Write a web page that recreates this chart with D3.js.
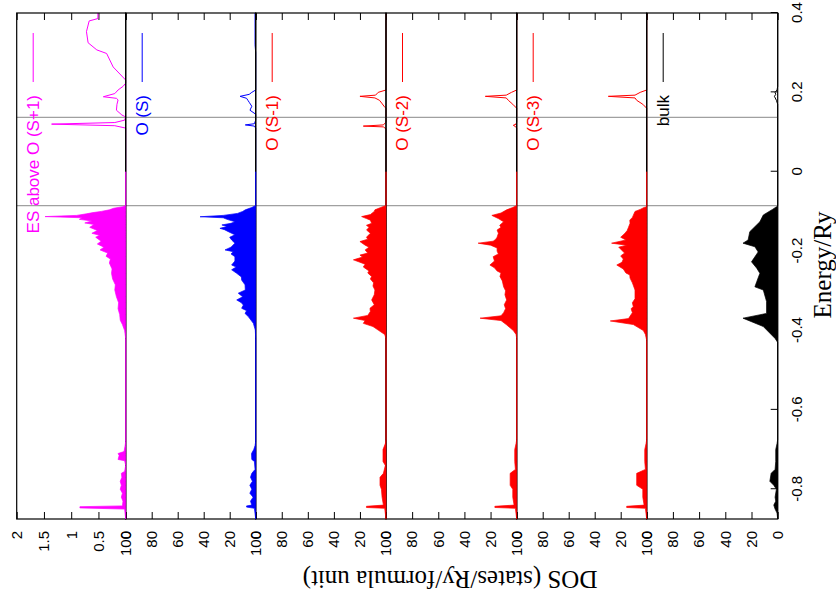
<!DOCTYPE html>
<html>
<head>
<meta charset="utf-8">
<script src="https://cdn.jsdelivr.net/npm/d3@7"></script>
<style>
  body { margin: 0; background: #fff; }
  svg { display: block; }
</style>
</head>
<body>
<div id="chart"></div>
<script>
// DOS curves, [energy (Ry), DOS] pairs
const esFill = [[-0.875,0],[-0.85,0.02],[-0.847,0.84],[-0.844,0.84],[-0.842,0.06],[-0.83,0.05],[-0.82,0.08],[-0.81,0.06],[-0.8,0.1],[-0.79,0.08],[-0.78,0.1],[-0.77,0.07],[-0.76,0.08],[-0.755,0.02],[-0.74,0],[-0.728,0.02],[-0.725,0.14],[-0.715,0.12],[-0.71,0.14],[-0.705,0.03],[-0.69,0.01],[-0.68,0],[-0.42,0],[-0.4,0.02],[-0.385,0.06],[-0.374,0.1],[-0.36,0.11],[-0.345,0.14],[-0.33,0.13],[-0.315,0.17],[-0.298,0.2],[-0.285,0.19],[-0.27,0.24],[-0.256,0.26],[-0.245,0.25],[-0.23,0.3],[-0.22,0.28],[-0.213,0.36],[-0.205,0.33],[-0.197,0.47],[-0.19,0.4],[-0.182,0.52],[-0.175,0.45],[-0.165,0.55],[-0.16,0.48],[-0.155,0.62],[-0.148,0.52],[-0.14,0.66],[-0.133,0.58],[-0.129,0.75],[-0.124,0.62],[-0.12,0.85],[-0.116,0.8],[-0.113,1.48],[-0.11,0.9],[-0.106,0.72],[-0.103,0.6],[-0.1,0.45],[-0.096,0.3],[-0.092,0.22],[-0.088,0.05],[-0.085,0],[0,0]];
const esLine = [[0,0],[0.11,0],[0.116,0.2],[0.12,1.36],[0.124,0.2],[0.13,0.02],[0.138,0],[0.143,0.07],[0.155,0.17],[0.17,0.16],[0.181,0.14],[0.185,0.17],[0.189,0.41],[0.197,0.2],[0.206,0.14],[0.215,0.05],[0.223,0],[0.231,0],[0.264,0.23],[0.298,0.35],[0.307,0.53],[0.325,0.69],[0.353,0.72],[0.38,0.67],[0.386,0.51],[0.4,0.51]];

const oSFill = [[-0.875,0],[-0.848,1],[-0.845,7],[-0.842,7],[-0.84,3],[-0.83,4],[-0.82,2],[-0.81,4.5],[-0.8,3],[-0.79,4.5],[-0.78,2.5],[-0.77,4],[-0.76,3],[-0.75,0.5],[-0.73,1],[-0.725,3],[-0.71,3.2],[-0.7,1.5],[-0.69,0.5],[-0.68,0],[-0.42,0],[-0.399,0.3],[-0.382,1.8],[-0.365,5.7],[-0.357,8.2],[-0.35,7],[-0.344,10.8],[-0.336,9.5],[-0.33,11],[-0.323,14.6],[-0.315,10],[-0.306,13.4],[-0.298,8],[-0.285,8.2],[-0.273,10.8],[-0.265,11],[-0.256,14.6],[-0.247,18.5],[-0.24,15],[-0.235,18.5],[-0.225,16],[-0.214,16],[-0.207,19],[-0.2015,17.2],[-0.197,23.6],[-0.19,19],[-0.18,16],[-0.172,18.5],[-0.165,20],[-0.159,16],[-0.151,21],[-0.146,24],[-0.1426,27.5],[-0.138,22],[-0.134,26],[-0.13,19],[-0.126,15.9],[-0.12,22],[-0.116,25],[-0.1134,42.8],[-0.11,25],[-0.105,14],[-0.1,10],[-0.096,8],[-0.09,3],[-0.085,0],[0,0]];
const oSLine = [[0,0],[0.11,0],[0.115,1],[0.118,8],[0.121,1],[0.13,0],[0.145,0],[0.155,4.4],[0.165,3],[0.175,5],[0.18,6],[0.185,7],[0.19,12],[0.195,5],[0.2,3],[0.206,0],[0.3,0],[0.32,0.5],[0.4,0.5]];

const oS1Fill = [[-0.875,0],[-0.848,1],[-0.846,15],[-0.843,15],[-0.84,2],[-0.82,3],[-0.8,3.5],[-0.79,4.6],[-0.77,4.6],[-0.76,2],[-0.74,0.5],[-0.73,2.3],[-0.7,2.3],[-0.685,0.5],[-0.675,0],[-0.42,0],[-0.41,1],[-0.399,6],[-0.39,10],[-0.382,17.4],[-0.375,16],[-0.369,25],[-0.362,14],[-0.352,12],[-0.344,12.3],[-0.335,9],[-0.323,11],[-0.31,9],[-0.298,8.5],[-0.288,10],[-0.28,9.5],[-0.27,12],[-0.264,11],[-0.255,14],[-0.25,13],[-0.24,17.4],[-0.233,16],[-0.228,20],[-0.222,25],[-0.215,18],[-0.21,20],[-0.205,14],[-0.197,16],[-0.19,13],[-0.185,16],[-0.176,20],[-0.17,14],[-0.165,15],[-0.155,12],[-0.147,14.9],[-0.14,13],[-0.135,15],[-0.13,11],[-0.122,12],[-0.118,15],[-0.113,18.7],[-0.108,12],[-0.1,9],[-0.096,8.5],[-0.09,4],[-0.085,0],[0,0]];
const oS1Line = [[0,0],[0.108,0],[0.113,2],[0.115,17.4],[0.118,2],[0.125,0],[0.16,0],[0.165,1.5],[0.173,3.3],[0.18,5],[0.186,8.5],[0.19,20],[0.193,8],[0.2,6],[0.206,0],[0.4,0]];

const oS2Fill = [[-0.875,0],[-0.848,1],[-0.846,16.7],[-0.843,16.7],[-0.84,2],[-0.82,3],[-0.8,3],[-0.79,5],[-0.76,5],[-0.75,1],[-0.73,1.5],[-0.7,1.5],[-0.685,0.5],[-0.675,0],[-0.42,0],[-0.41,0.5],[-0.4,2.6],[-0.385,8],[-0.375,12],[-0.369,28],[-0.363,12],[-0.355,10],[-0.345,8.5],[-0.335,9.5],[-0.323,7.7],[-0.31,9],[-0.3,8.5],[-0.29,10],[-0.275,11],[-0.264,12.8],[-0.255,12],[-0.25,15],[-0.242,17],[-0.235,20.5],[-0.225,17],[-0.214,18],[-0.207,14],[-0.2,15],[-0.192,15],[-0.185,20],[-0.18,29.5],[-0.175,18],[-0.17,16],[-0.165,15],[-0.155,14],[-0.147,15],[-0.14,12],[-0.135,13],[-0.126,10],[-0.118,14],[-0.11,19],[-0.104,12],[-0.096,7.7],[-0.09,3],[-0.085,0],[0,0]];
const oS2Line = [[0,0],[0.11,0],[0.114,1],[0.117,2.6],[0.12,0.5],[0.125,0],[0.16,0],[0.17,3],[0.18,6.4],[0.186,8],[0.19,24],[0.193,8],[0.2,4],[0.206,0],[0.4,0]];

const oS3Fill = [[-0.875,0],[-0.848,1],[-0.846,15.4],[-0.843,15.4],[-0.84,2],[-0.82,3],[-0.8,3],[-0.79,7.7],[-0.76,7.7],[-0.75,1],[-0.73,1.5],[-0.7,1.5],[-0.685,0.5],[-0.675,0],[-0.425,0],[-0.41,1],[-0.4,2.6],[-0.385,10.3],[-0.376,28],[-0.37,14],[-0.355,11],[-0.345,12],[-0.34,10.3],[-0.33,11],[-0.32,9],[-0.298,9],[-0.28,11],[-0.268,12.8],[-0.26,13],[-0.255,16],[-0.245,18],[-0.235,23],[-0.228,19],[-0.22,18],[-0.212,20],[-0.205,17],[-0.19,21.5],[-0.185,15.4],[-0.18,27],[-0.172,16],[-0.165,20],[-0.155,16.7],[-0.148,15],[-0.14,14],[-0.13,12.8],[-0.122,13],[-0.115,11],[-0.1,9],[-0.095,5],[-0.09,2],[-0.088,0],[0,0]];
const oS3Line = [[0,0],[0.16,0],[0.17,3],[0.18,7.7],[0.186,9],[0.19,29.5],[0.193,9],[0.2,5],[0.206,0],[0.4,0]];

const bulkFill = [[-0.875,0],[-0.86,0.5],[-0.85,2],[-0.84,3],[-0.83,1.5],[-0.82,2],[-0.8,1],[-0.79,3],[-0.78,6],[-0.76,5],[-0.75,2],[-0.73,1.5],[-0.7,1.5],[-0.685,0.5],[-0.675,0],[-0.43,0],[-0.42,2],[-0.39,11],[-0.369,26.5],[-0.357,8.5],[-0.327,8.5],[-0.298,11],[-0.29,17.4],[-0.277,16],[-0.256,13.6],[-0.243,16],[-0.227,20],[-0.202,14.9],[-0.189,17.4],[-0.18,26.5],[-0.172,22.6],[-0.151,21.3],[-0.126,13.6],[-0.109,11],[-0.095,4],[-0.088,0.8],[-0.086,0],[0,0]];
const bulkLine = [[0,0],[0.17,0],[0.18,1],[0.19,2.5],[0.195,1.5],[0.2,2],[0.206,0.5],[0.215,0],[0.4,0]];

const panelNames = ["ES above O (S+1)", "O (S)", "O (S-1)", "O (S-2)", "O (S-3)", "bulk"];
const panelColors = ["#ff00ff", "#0000ff", "#ff0000", "#ff0000", "#ff0000", "#000000"];
const panelMax = [2, 100, 100, 100, 100, 100];
const panelFills = [esFill, oSFill, oS1Fill, oS2Fill, oS3Fill, bulkFill];
const panelLines = [esLine, oSLine, oS1Line, oS2Line, oS3Line, bulkLine];

const dosTicksSmall = [0, 0.5, 1, 1.5, 2];
const dosTicks = [0, 20, 40, 60, 80, 100];
const energyTicks = [-0.8, -0.6, -0.4, -0.2, 0, 0.2, 0.4];
const markerEnergies = [0.137, -0.0856];

const width = 836;
const height = 612;
const sans = "'Liberation Sans', Arial, Helvetica, sans-serif";
const serif = "'Liberation Serif', 'Times New Roman', serif";

const svg = d3.select("#chart")
  .append("svg")
  .attr("width", width)
  .attr("height", height);

// the plot is laid out portrait (energy across, panels stacked) and turned a quarter left
const g = svg.append("g")
  .attr("transform", `translate(0,${height}) rotate(-90)`);

const x = d3.scaleLinear().domain([-0.875, 0.4]).range([93, 599]);
const edges = [16.7, 125.7, 255.7, 386, 516.7, 646.7, 777.7];

const axisLayer = g.append("g");
const lineLayer = g.append("g");
const grayLayer = g.append("g");
const borderLayer = g.append("g");
const fillLayer = g.append("g");
const legendLayer = g.append("g");

panelNames.forEach((name, i) => {
  const top = edges[i];
  const bottom = edges[i + 1];
  const y = d3.scaleLinear().domain([0, panelMax[i]]).range([bottom, top]);
  const ticks = panelMax[i] === 2 ? dosTicksSmall : dosTicks;

  const left = axisLayer.append("g")
    .attr("transform", `translate(${x.range()[0]},0)`)
    .call(d3.axisLeft(y).tickValues(ticks).tickSizeInner(-7).tickSizeOuter(0).tickPadding(12).tickFormat(d => d));
  left.select(".domain").remove();
  left.attr("font-family", sans).attr("font-size", 15);

  const right = axisLayer.append("g")
    .attr("transform", `translate(${x.range()[1]},0)`)
    .call(d3.axisRight(y).tickValues(ticks).tickSizeInner(-7).tickSizeOuter(0).tickFormat(""));
  right.select(".domain").remove();

  lineLayer.append("path")
    .datum(panelLines[i])
    .attr("d", d3.line().x(d => x(d[0])).y(d => y(d[1])))
    .attr("fill", "none")
    .attr("stroke", panelColors[i])
    .attr("stroke-width", 1);

  borderLayer.append("rect")
    .attr("x", x.range()[0])
    .attr("y", top)
    .attr("width", x.range()[1] - x.range()[0])
    .attr("height", bottom - top)
    .attr("fill", "none")
    .attr("stroke", "#000")
    .attr("stroke-width", 1.2);

  fillLayer.append("path")
    .datum(panelFills[i])
    .attr("d", d3.area().x(d => x(d[0])).y0(y(0)).y1(d => y(d[1])))
    .attr("fill", panelColors[i])
    .attr("stroke", panelColors[i])
    .attr("stroke-width", 0.7);

  // key in the upper right corner of each panel
  const ky = top + 16.5;
  legendLayer.append("text")
    .attr("x", 517)
    .attr("y", ky)
    .attr("dy", "0.35em")
    .attr("text-anchor", "end")
    .attr("font-family", sans)
    .attr("font-size", 17)
    .attr("fill", panelColors[i])
    .text(name);
  legendLayer.append("line")
    .attr("x1", 530).attr("x2", 579)
    .attr("y1", ky).attr("y2", ky)
    .attr("stroke", panelColors[i])
    .attr("stroke-width", 1);
});

grayLayer.selectAll("line")
  .data(markerEnergies)
  .enter()
  .append("line")
  .attr("x1", d => x(d)).attr("x2", d => x(d))
  .attr("y1", edges[0]).attr("y2", edges[edges.length - 1])
  .attr("stroke", "#a0a0a0")
  .attr("stroke-width", 1.3);

const energyAxis = axisLayer.append("g")
  .attr("transform", `translate(0,${edges[edges.length - 1]})`)
  .call(d3.axisBottom(x).tickValues(energyTicks).tickSizeInner(-7).tickSizeOuter(0).tickPadding(14).tickFormat(d => String(d)));
energyAxis.select(".domain").remove();
energyAxis.attr("font-family", sans).attr("font-size", 15);

g.append("text")
  .attr("x", 347)
  .attr("y", 822)
  .attr("dy", "0.35em")
  .attr("text-anchor", "middle")
  .attr("font-family", serif)
  .attr("font-size", 25)
  .text("Energy/Ry");

g.append("text")
  .attr("transform", "translate(32,450) rotate(-90)")
  .attr("dy", "0.35em")
  .attr("text-anchor", "middle")
  .attr("font-family", serif)
  .attr("font-size", 25)
  .text("DOS (states/Ry/formula unit)");
</script>
</body>
</html>
